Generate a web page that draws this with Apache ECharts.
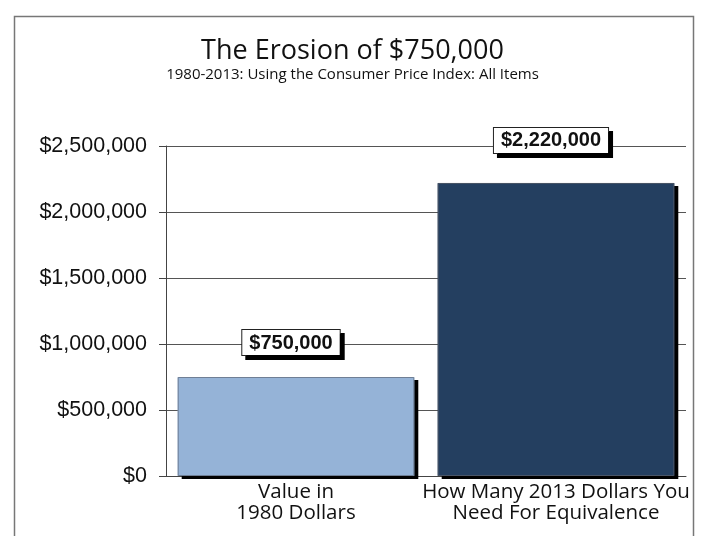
<!DOCTYPE html>
<html>
<head>
<meta charset="utf-8">
<script src="https://cdn.jsdelivr.net/npm/echarts@6/dist/echarts.min.js"></script>
<style>html,body{margin:0;padding:0;background:#fff;}#c{width:705px;height:536px;}</style>
</head>
<body>
<div id="c"></div>
<script>
const categories = ['Value in\n1980 Dollars', 'How Many 2013 Dollars You\nNeed For Equivalence'];
const values = [750000, 2220000];
const barColors = ['#95b3d7', '#243f60'];
const barBorders = ['#6f7f95', '#4a5566'];
const labelDistances = [22, 30];
const yTicks = { min: 0, max: 2500000, interval: 500000 };

const fmt = v => '$' + v.toLocaleString('en-US');
const chart = echarts.init(document.getElementById('c'));
chart.setOption({
  animation: false,
  backgroundColor: '#fff',
  graphic: [{
    type: 'rect', left: 12, top: 14, shape: { width: 679, height: 540 },
    style: { fill: 'none', stroke: '#777', lineWidth: 1.5 }, silent: true
  }],
  title: {
    text: 'The Erosion of $750,000',
    subtext: '1980-2013: Using the Consumer Price Index: All Items',
    left: 'center', top: 33, itemGap: 2,
    textStyle: { fontFamily: 'Open Sans', fontSize: 27, fontWeight: 'normal', color: '#111' },
    subtextStyle: { fontFamily: 'Open Sans', fontSize: 15, color: '#111' }
  },
  grid: { left: 166, right: 19, top: 146, bottom: 60 },
  xAxis: {
    type: 'category', data: categories,
    axisLine: { lineStyle: { color: '#444', width: 1 } },
    axisTick: { show: false },
    axisLabel: { fontFamily: 'Open Sans', fontSize: 20.5, color: '#111', lineHeight: 21, margin: 6, interval: 0 }
  },
  yAxis: {
    type: 'value', min: yTicks.min, max: yTicks.max, interval: yTicks.interval,
    axisLine: { show: true, lineStyle: { color: '#444' } },
    axisTick: { show: true, length: 7, lineStyle: { color: '#444' } },
    splitLine: { lineStyle: { color: '#555', width: 1 } },
    axisLabel: { fontFamily: 'Liberation Sans', fontSize: 21.5, color: '#111', margin: 19, formatter: fmt }
  },
  series: [{
    type: 'bar',
    barCategoryGap: '9%',
    data: values.map((v, i) => ({
      value: v,
      itemStyle: { color: barColors[i] },
      label: { distance: labelDistances[i], offset: [-5, 0] }
    })),
    itemStyle: {
      shadowColor: '#000', shadowOffsetX: 4, shadowOffsetY: 3, shadowBlur: 0
    },
    label: {
      show: true, position: 'top', formatter: p => fmt(p.value),
      fontFamily: 'Liberation Sans', fontWeight: 'bold', fontSize: 20, color: '#111',
      backgroundColor: '#fff', borderColor: '#222', borderWidth: 1,
      padding: [3, 7, 2, 7],
      shadowColor: '#000', shadowOffsetX: 4, shadowOffsetY: 4, shadowBlur: 0
    }
  }, {
    type: 'bar',
    barCategoryGap: '9%',
    barGap: '-100%',
    silent: true,
    data: values.map((v, i) => ({
      value: v,
      itemStyle: { color: 'rgba(0,0,0,0)', borderColor: barBorders[i], borderWidth: 1 }
    }))
  }]
});
</script>
</body>
</html>
